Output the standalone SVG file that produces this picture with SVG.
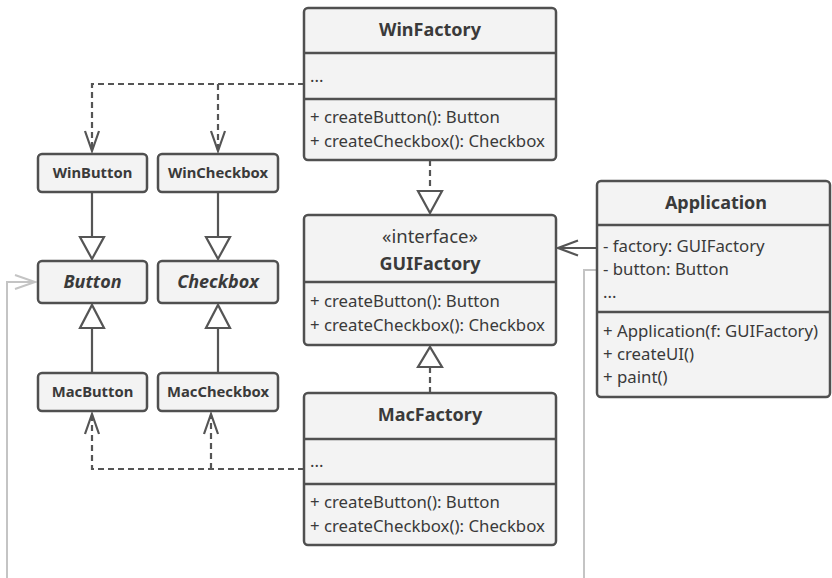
<svg xmlns="http://www.w3.org/2000/svg" width="832" height="578" viewBox="0 0 832 578">
<style>
.box{fill:#f3f3f3;stroke:#505050;stroke-width:2.5}
.div{stroke:#505050;stroke-width:2.5}
.t{font-family:"Noto Sans","Liberation Sans",sans-serif;font-size:16.8px;fill:#3a3a3a}
.ti{font-family:"Noto Sans","Liberation Sans",sans-serif;font-size:18px;font-weight:bold;fill:#3a3a3a;text-anchor:middle}
.st{font-family:"Noto Sans","Liberation Sans",sans-serif;font-size:18.5px;fill:#3a3a3a;text-anchor:middle}
.sm{font-family:"Noto Sans","Liberation Sans",sans-serif;font-size:14.8px;font-weight:bold;fill:#3a3a3a;text-anchor:middle}
.it{font-style:italic;font-size:18px}
.ln{fill:none;stroke:#555;stroke-width:2.2}
.dash{stroke-dasharray:6 4}
.tri{fill:#fff;stroke:#555;stroke-width:2.2}
.grey{fill:none;stroke:#c4c4c4;stroke-width:2}
</style>
<g id="connectors">
  <path class="ln dash" d="M304,84 H92 V150 M218,84 V150"/>
  <polyline class="ln" points="85,131 92,151 99,131"/>
  <polyline class="ln" points="211,131 218,151 225,131"/>
  <path class="ln" d="M92,192 V237 M218,192 V237"/>
  <polygon class="tri" points="80,237 104,237 92,259"/>
  <polygon class="tri" points="206,237 230,237 218,259"/>
  <path class="ln" d="M92,373 V328 M218,373 V328"/>
  <polygon class="tri" points="80,328 104,328 92,305"/>
  <polygon class="tri" points="206,328 230,328 218,305"/>
  <path class="ln dash" d="M304,469 H92 V415 M211,469 V415"/>
  <polyline class="ln" points="85,434 92,414 99,434"/>
  <polyline class="ln" points="204,434 211,414 218,434"/>
  <path class="ln dash" d="M430,160 V191"/>
  <polygon class="tri" points="418,191 442,191 430,213"/>
  <path class="ln dash" d="M430,393 V367"/>
  <polygon class="tri" points="418,367 442,367 430,347"/>
  <path class="ln" d="M597,248 H558"/>
  <polyline class="ln" points="578,240.5 558,248 578,255.5"/>
  <path class="grey" d="M597,270 H584 V590 M7,590 V282 H35"/>
  <polyline class="grey" points="15,275 35,282 15,289"/>
</g>
<g id="WinFactory">
  <rect class="box" x="304" y="8" width="252" height="152" rx="4"/>
  <line class="div" x1="304" y1="53" x2="556" y2="53"/>
  <line class="div" x1="304" y1="99" x2="556" y2="99"/>
  <text class="ti" x="430" y="36">WinFactory</text>
  <text class="t" x="310" y="82">...</text>
  <text class="t" x="310" y="123">+ createButton(): Button</text>
  <text class="t" x="310" y="147">+ createCheckbox(): Checkbox</text>
</g>
<g id="GUIFactory">
  <rect class="box" x="304" y="215" width="252" height="130" rx="4"/>
  <line class="div" x1="304" y1="282" x2="556" y2="282"/>
  <text class="st" x="430" y="243">«interface»</text>
  <text class="ti" x="430" y="270">GUIFactory</text>
  <text class="t" x="310" y="307">+ createButton(): Button</text>
  <text class="t" x="310" y="331">+ createCheckbox(): Checkbox</text>
</g>
<g id="MacFactory">
  <rect class="box" x="304" y="393" width="252" height="152" rx="4"/>
  <line class="div" x1="304" y1="439" x2="556" y2="439"/>
  <line class="div" x1="304" y1="484" x2="556" y2="484"/>
  <text class="ti" x="430" y="421">MacFactory</text>
  <text class="t" x="310" y="467">...</text>
  <text class="t" x="310" y="508">+ createButton(): Button</text>
  <text class="t" x="310" y="532">+ createCheckbox(): Checkbox</text>
</g>
<g id="Application">
  <rect class="box" x="597" y="181" width="233" height="216" rx="4"/>
  <line class="div" x1="597" y1="225" x2="830" y2="225"/>
  <line class="div" x1="597" y1="312" x2="830" y2="312"/>
  <text class="ti" x="716" y="209">Application</text>
  <text class="t" x="603" y="252">- factory: GUIFactory</text>
  <text class="t" x="603" y="275">- button: Button</text>
  <text class="t" x="603" y="298">...</text>
  <text class="t" x="603" y="337">+ Application(f: GUIFactory)</text>
  <text class="t" x="603" y="360">+ createUI()</text>
  <text class="t" x="603" y="383">+ paint()</text>
</g>
<g id="WinButton">
  <rect class="box" x="38" y="154" width="109" height="38" rx="4"/>
  <text class="sm" x="92.5" y="178">WinButton</text>
</g>
<g id="WinCheckbox">
  <rect class="box" x="158" y="154" width="120" height="38" rx="4"/>
  <text class="sm" x="218" y="178">WinCheckbox</text>
</g>
<g id="Button">
  <rect class="box" x="38" y="261" width="109" height="42" rx="4"/>
  <text class="sm it" x="92.5" y="288">Button</text>
</g>
<g id="Checkbox">
  <rect class="box" x="158" y="261" width="120" height="42" rx="4"/>
  <text class="sm it" x="218" y="288">Checkbox</text>
</g>
<g id="MacButton">
  <rect class="box" x="38" y="373" width="109" height="38" rx="4"/>
  <text class="sm" x="92.5" y="397">MacButton</text>
</g>
<g id="MacCheckbox">
  <rect class="box" x="158" y="373" width="120" height="38" rx="4"/>
  <text class="sm" x="218" y="397">MacCheckbox</text>
</g>
</svg>
